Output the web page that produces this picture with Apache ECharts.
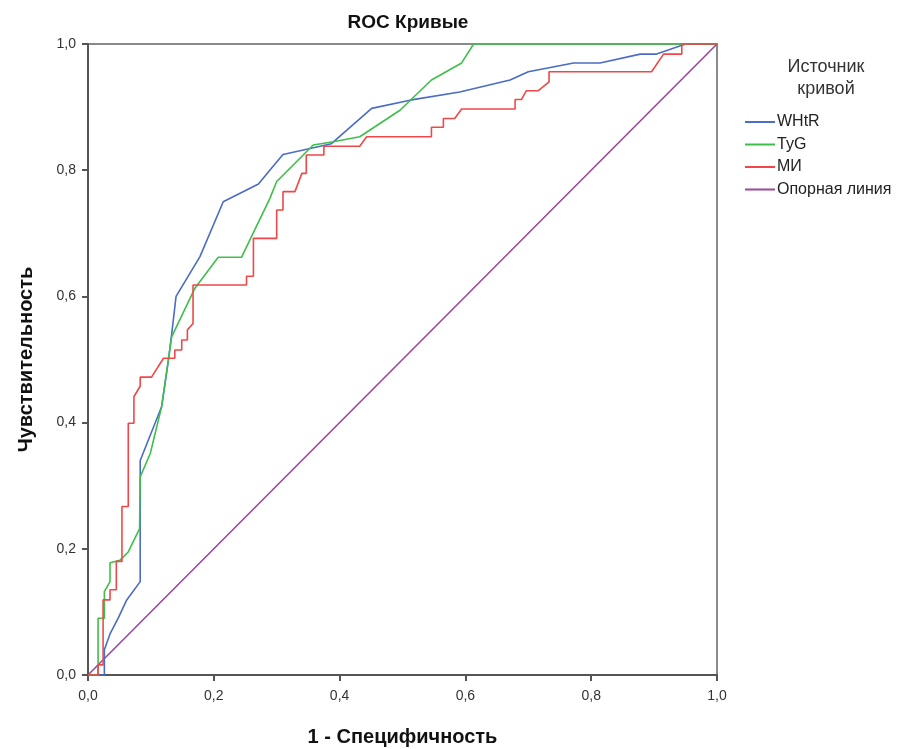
<!DOCTYPE html>
<html>
<head>
<meta charset="utf-8">
<script src="https://cdn.jsdelivr.net/npm/echarts@6/dist/echarts.min.js"></script>
<style>
  html, body { margin: 0; padding: 0; background: #fff; }
  #chart { width: 909px; height: 749px; }
</style>
</head>
<body>
<div id="chart"></div>
<script>
// 1 - специфичность / чувствительность
const whtrX = [0, 0.026, 0.026, 0.035, 0.048, 0.061, 0.083, 0.083, 0.117, 0.128, 0.133, 0.140, 0.178, 0.215, 0.271, 0.289, 0.310, 0.387, 0.451, 0.512, 0.591, 0.671, 0.700, 0.772, 0.814, 0.878, 0.904, 0.950, 1.0]
const whtrY = [0, 0, 0.040, 0.065, 0.090, 0.118, 0.148, 0.340, 0.425, 0.500, 0.540, 0.600, 0.663, 0.750, 0.778, 0.800, 0.825, 0.842, 0.898, 0.911, 0.924, 0.943, 0.956, 0.970, 0.970, 0.984, 0.984, 1.0, 1.0]

const tygX = [0, 0.016, 0.016, 0.026, 0.026, 0.035, 0.035, 0.051, 0.064, 0.082, 0.083, 0.099, 0.117, 0.133, 0.170, 0.207, 0.244, 0.289, 0.300, 0.358, 0.390, 0.432, 0.464, 0.496, 0.546, 0.594, 0.613, 1.0]
const tygY = [0, 0, 0.090, 0.090, 0.132, 0.148, 0.178, 0.182, 0.195, 0.232, 0.314, 0.351, 0.425, 0.536, 0.613, 0.662, 0.662, 0.755, 0.782, 0.840, 0.845, 0.853, 0.874, 0.895, 0.943, 0.970, 1.0, 1.0]

const miX = [0, 0.016, 0.016, 0.024, 0.024, 0.035, 0.035, 0.045, 0.045, 0.054, 0.054, 0.064, 0.064, 0.073, 0.073, 0.083, 0.083, 0.101, 0.120, 0.138, 0.138, 0.149, 0.149, 0.158, 0.158, 0.167, 0.167, 0.252, 0.252, 0.263, 0.263, 0.300, 0.300, 0.310, 0.310, 0.329, 0.340, 0.347, 0.347, 0.375, 0.375, 0.432, 0.443, 0.546, 0.546, 0.565, 0.565, 0.583, 0.594, 0.679, 0.679, 0.689, 0.697, 0.716, 0.733, 0.733, 0.896, 0.915, 0.944, 0.944, 1.0]
const miY = [0, 0, 0.016, 0.016, 0.119, 0.119, 0.135, 0.135, 0.180, 0.180, 0.267, 0.267, 0.399, 0.399, 0.441, 0.458, 0.472, 0.472, 0.502, 0.502, 0.515, 0.515, 0.531, 0.531, 0.547, 0.557, 0.618, 0.618, 0.632, 0.632, 0.692, 0.692, 0.737, 0.737, 0.766, 0.766, 0.795, 0.795, 0.824, 0.824, 0.838, 0.838, 0.853, 0.853, 0.868, 0.868, 0.882, 0.882, 0.897, 0.897, 0.912, 0.912, 0.926, 0.926, 0.940, 0.956, 0.956, 0.984, 0.984, 1.0, 1.0]

const refX = [0, 1]
const refY = [0, 1]

const seriesNames = ['WHtR', 'TyG', 'МИ', 'Опорная линия']
const seriesColors = ['#4a6cc6', '#3fbf4a', '#f04848', '#9b479b']

function pairs(xs, ys) {
  return xs.map((x, i) => [x, ys[i]])
}

const fmt = v => v.toFixed(1).replace('.', ',')

let chart = echarts.init(document.getElementById('chart'), null, {renderer: 'canvas'})

const lines = [
  pairs(whtrX, whtrY),
  pairs(tygX, tygY),
  pairs(miX, miY),
  pairs(refX, refY)
]

chart.setOption({
  animation: false,
  textStyle: {fontFamily: 'Liberation Sans, Arial, sans-serif'},
  title: {
    text: 'ROC Кривые',
    left: 403,
    textAlign: 'center',
    top: 8,
    textStyle: {fontSize: 19, fontWeight: 'bold', color: '#111'}
  },
  graphic: [{
    type: 'text',
    x: 826,
    y: 56,
    style: {
      text: 'Источник\nкривой',
      align: 'center',
      verticalAlign: 'top',
      fontSize: 18,
      lineHeight: 22,
      fill: '#333',
      fontFamily: 'Liberation Sans, Arial, sans-serif'
    }
  }],
  legend: {
    orient: 'vertical',
    left: 745,
    top: 114,
    padding: 0,
    itemWidth: 30,
    itemHeight: 2,
    itemGap: 6.5,
    icon: 'rect',
    data: seriesNames,
    textStyle: {fontSize: 16, color: '#222', lineHeight: 16, padding: [0, 0, 0, -3]}
  },
  grid: {
    left: 88,
    right: 192,
    top: 44,
    bottom: 74,
    outerBoundsMode: 'none',
    containLabel: false,
    show: true,
    borderColor: '#8a8a8a',
    borderWidth: 2
  },
  xAxis: {
    type: 'value',
    min: 0,
    max: 1,
    interval: 0.2,
    name: '1 - Специфичность',
    nameLocation: 'middle',
    nameGap: 52,
    nameTextStyle: {fontSize: 20, fontWeight: 'bold', color: '#111'},
    axisLine: {show: true, lineStyle: {color: '#555', width: 2}},
    axisTick: {show: true, length: 6, lineStyle: {color: '#555', width: 2}},
    axisLabel: {formatter: fmt, fontSize: 14, color: '#333', margin: 14},
    splitLine: {show: false}
  },
  yAxis: {
    type: 'value',
    min: 0,
    max: 1,
    interval: 0.2,
    name: 'Чувствительность',
    nameLocation: 'middle',
    nameGap: 52,
    nameTextStyle: {fontSize: 20, fontWeight: 'bold', color: '#111'},
    axisLine: {show: true, lineStyle: {color: '#555', width: 2}},
    axisTick: {show: true, length: 6, lineStyle: {color: '#555', width: 2}},
    axisLabel: {formatter: fmt, fontSize: 14, color: '#333', margin: 12},
    splitLine: {show: false}
  },
  series: seriesNames.map((name, i) => ({
    name: name,
    type: 'line',
    data: lines[i],
    showSymbol: false,
    symbol: 'none',
    color: seriesColors[i],
    lineStyle: {width: 1.6, color: seriesColors[i]},
    z: i === 3 ? 1 : 2
  }))
})
</script>
</body>
</html>
